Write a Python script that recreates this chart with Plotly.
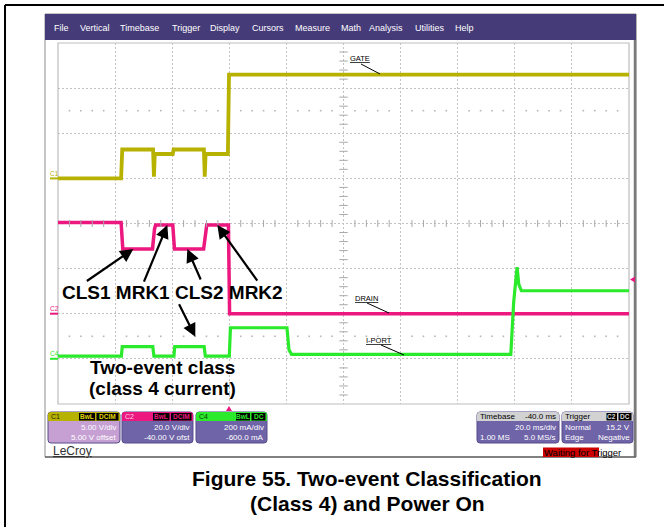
import plotly.graph_objects as go

W, H = 664, 527

# ---- acquisition (time in ms relative to the trigger, 20 ms/div) ----
gate_t = [-60, -37.9, -37.5, -26.7, -26.4, -26.1, -19.8, -19.5, -8.9, -8.6, -8.3, -0.5, -0.1, 140]
gate_v = [0.0, 0.0, 3.2, 3.2, 0.2, 2.7, 2.7, 3.2, 3.2, 0.2, 2.7, 2.7, 11.5, 11.5]

drain_t = [-60, -37.9, -37.3, -26.9, -26.2, -25.8, -19.8, -19.2, -9.0, -8.3, -7.9, -0.3, 0.1, 140]
drain_v = [40.4, 40.4, 28.7, 28.7, 37.5, 39.3, 39.3, 28.7, 28.7, 37.5, 39.3, 39.3, 0.0, 0.0]

iport_t = [-60, -37.8, -37.5, -26.8, -26.4, -19.4, -19.1, -8.8, -8.4, 0.0, 0.4, 20.2, 20.9,
           21.8, 98.6, 99.6, 100.8, 101.4, 102.3, 140]
iport_ma = [12, 12, 54, 54, 12, 12, 54, 54, 12, 12, 138, 138, 40, 20, 20, 250, 407, 330, 302, 302]

# channel vertical settings: units per division, offset
C1_SCALE, C1_OFFSET = 5.0, 5.0
C2_SCALE, C2_OFFSET = 20.0, -40.0
C4_SCALE, C4_OFFSET = 200.0, -600.0
TRIG_LEVEL = 15.2

menu_items = ["File", "Vertical", "Timebase", "Trigger", "Display", "Cursors",
              "Measure", "Math", "Analysis", "Utilities", "Help"]
menu_x = [53, 79, 119, 171, 209, 251, 294, 340, 368, 414, 454]

YELLOW = "#B7B200"
PINK = "#EC177F"
GREEN = "#2BEA2B"
PURPLE = "#6F64A8"
FONT = "Liberation Sans, Arial, sans-serif"


def to_div(vals, scale, offset):
    return [(v + offset) / scale for v in vals]


def px(x):
    return x / W


def py(y):
    return 1 - y / H


def P(x, y):
    return f"{px(x):.5f},{py(y):.5f}"


fig = go.Figure()

# ---- waveforms ----
fig.add_trace(go.Scatter(x=gate_t, y=to_div(gate_v, C1_SCALE, C1_OFFSET), mode="lines",
                         line=dict(color=YELLOW, width=3.8), hoverinfo="skip"))
fig.add_trace(go.Scatter(x=drain_t, y=to_div(drain_v, C2_SCALE, C2_OFFSET), mode="lines",
                         line=dict(color=PINK, width=3.5), hoverinfo="skip"))
fig.add_trace(go.Scatter(x=iport_t, y=to_div(iport_ma, C4_SCALE, C4_OFFSET), mode="lines",
                         line=dict(color=GREEN, width=3.2), hoverinfo="skip"))

# ---- graticule decorations: minor ticks on the centre cross, dotted rows ----
minor_t = [t for t in range(-60, 141, 4) if t % 20 != 0]
minor_y = [k / 5 for k in range(-20, 21) if k % 5 != 0]
fig.add_trace(go.Scatter(x=[40] * len(minor_y), y=minor_y, mode="markers", hoverinfo="skip",
                         marker=dict(symbol="line-ew", size=6, line=dict(width=1, color="#a8a8a8"))))
fig.add_trace(go.Scatter(x=minor_t, y=[0] * len(minor_t), mode="markers", hoverinfo="skip",
                         marker=dict(symbol="line-ns", size=5, line=dict(width=1, color="#a8a8a8"))))
for row in (2.5, -2.5):
    fig.add_trace(go.Scatter(x=minor_t, y=[row] * len(minor_t), mode="markers", hoverinfo="skip",
                             marker=dict(symbol="square", size=1.6, color="#b4b4b4")))

shapes = []
ann = []


def line(x0, y0, x1, y1, color="black", width=1, layer="above"):
    shapes.append(dict(type="line", xref="paper", yref="paper", x0=px(x0), y0=py(y0),
                       x1=px(x1), y1=py(y1), line=dict(color=color, width=width), layer=layer))


def rect(x0, y0, x1, y1, fill, edge=None, width=1, layer="above"):
    shapes.append(dict(type="rect", xref="paper", yref="paper", x0=px(x0), y0=py(y0),
                       x1=px(x1), y1=py(y1), fillcolor=fill,
                       line=dict(color=edge or fill, width=width if edge else 0), layer=layer))


def rounded(x0, y0, x1, y1, fill, edge=None, r=3, bottom=True):
    s = f"M{P(x0 + r, y0)} L{P(x1 - r, y0)} Q{P(x1, y0)} {P(x1, y0 + r)} "
    if bottom:
        s += (f"L{P(x1, y1 - r)} Q{P(x1, y1)} {P(x1 - r, y1)} L{P(x0 + r, y1)} "
              f"Q{P(x0, y1)} {P(x0, y1 - r)} ")
    else:
        s += f"L{P(x1, y1)} L{P(x0, y1)} "
    s += f"L{P(x0, y0 + r)} Q{P(x0, y0)} {P(x0 + r, y0)} Z"
    shapes.append(dict(type="path", xref="paper", yref="paper", path=s, fillcolor=fill,
                       line=dict(color=edge or fill, width=1 if edge else 0)))


def text(x, y, s, size=8, color="white", anchor="left", bold=False):
    ann.append(dict(x=px(x), y=py(y), xref="paper", yref="paper", text=f"<b>{s}</b>" if bold else s,
                    showarrow=False, xanchor=anchor, yanchor="middle", borderpad=0,
                    font=dict(family=FONT, size=size, color=color)))


# page border
line(5, 5, 5, 527, width=2)
line(5, 5, 664, 5, width=2)

# instrument screen frame and menu bar
rect(45, 14, 636, 457, "white", edge="#8c8c8c", width=1, layer="below")
line(635, 14, 635, 457, color="#7a7a7a", width=2.5)
line(45, 457, 636, 457, color="#6a6a6a", width=1.5)
rect(45, 14, 636, 40, "#453B79")
for name, mx in zip(menu_items, menu_x):
    text(mx, 28, name, size=9, color="white")

# graticule border
shapes.append(dict(type="rect", xref="x domain", yref="y domain", x0=0, y0=0, x1=1, y1=1,
                   line=dict(color="#bdbdbd", width=1.2), layer="below"))

# ground markers on the left edge
for lab, col, scale, off in (("C1", YELLOW, C1_SCALE, C1_OFFSET),
                             ("C2", PINK, C2_SCALE, C2_OFFSET),
                             ("C4", GREEN, C4_SCALE, C4_OFFSET)):
    gy = 223.5 - 45.1 * (off / scale)
    line(50, gy, 58, gy, color=col, width=2)
    text(48.5, gy - 5, lab, size=6.5, color=col)

# trigger level (right) and trigger position (bottom) indicators
ty = 223.5 - 45.1 * ((TRIG_LEVEL + C2_OFFSET) / C2_SCALE)
shapes.append(dict(type="path", xref="paper", yref="paper",
                   path=f"M{P(630, ty)} L{P(635, ty - 3)} L{P(635, ty + 3)} Z",
                   fillcolor=PINK, line=dict(width=0)))
shapes.append(dict(type="path", xref="paper", yref="paper",
                   path=f"M{P(229, 406)} L{P(226, 411)} L{P(232, 411)} Z",
                   fillcolor=PINK, line=dict(width=0)))

# trace name call-outs
text(360, 58, "<u>GATE</u>", size=7.5, color="black", anchor="center")
line(361, 64, 380, 74)
text(366, 298, "<u>DRAIN</u>", size=7.5, color="black", anchor="center")
line(367, 303, 389, 313)
text(379, 340, "<u>I-PORT</u>", size=7.5, color="black", anchor="center")
line(381, 345, 404, 355)

# ---- channel descriptor boxes ----
def tag(x0, x1, s, col):
    rect(x0, 413, x1, 420.5, "black")
    text((x0 + x1) / 2, 416.8, s, size=6.5, color=col, anchor="center", bold=True)


def chan_box(x0, x1, head_col, body_col, name, name_col, tags, lines):
    rounded(x0, 412, x1, 443, body_col, edge="#574d8c")
    rounded(x0, 412, x1, 421, head_col, bottom=False)
    text(x0 + 2, 416.8, name, size=7, color=name_col)
    for (a, b, s, c) in tags:
        tag(a, b, s, c)
    for i, s in enumerate(lines):
        text(x1 - 2, 427.5 + 10 * i, s, size=8, color="white", anchor="right")


chan_box(48, 120, YELLOW, "#C6A0D3", "C1", "#222200",
         [(79, 95, "BwL", "#E0D800"), (96.5, 118.5, "DCIM", "#E0D800")],
         ["5.00 V/div", "5.00 V offset"])
chan_box(122, 193, PINK, PURPLE, "C2", "#ffd6ea",
         [(153, 169.5, "BwL", PINK), (171, 191.5, "DCIM", PINK)],
         ["20.0 V/div", "-40.00 V ofst"])
chan_box(196, 267, GREEN, PURPLE, "C4", "#0a3a0a",
         [(236, 250, "BwL", GREEN), (251.5, 265.5, "DC", GREEN)],
         ["200 mA/div", "-600.0 mA"])

# timebase box
rounded(477, 412, 559, 443, PURPLE, edge="#574d8c")
rounded(477, 412, 559, 421, "#D2D2D2", bottom=False)
text(479, 416.8, "Timebase", size=8, color="black")
text(557, 416.8, "-40.0 ms", size=8, color="black", anchor="right")
text(557, 427.5, "20.0 ms/div", size=8, color="white", anchor="right")
text(479, 437.5, "1.00 MS", size=8, color="white")
text(557, 437.5, "5.0 MS/s", size=8, color="white", anchor="right")

# trigger box
rounded(562, 412, 633, 443, PURPLE, edge="#574d8c")
rounded(562, 412, 633, 421, "#D2D2D2", bottom=False)
text(564, 416.8, "Trigger", size=8, color="black")
tag(606.5, 617, "C2", "#d8d8d8")
tag(618.5, 631.5, "DC", "#d8d8d8")
text(564, 427.5, "Normal", size=8, color="white")
text(631, 427.5, "15.2 V", size=8, color="white", anchor="right")
text(564, 437.5, "Edge", size=8, color="white")
text(631, 437.5, "Negative", size=8, color="white", anchor="right")

# status line and brand
rect(543, 447.5, 599, 457, "#CC0000")
text(543, 452, "Waiting for Trigger", size=9.5, color="black")
text(52, 451, "<u>LeCroy</u>", size=12, color="#333333")

# ---- annotation labels and arrows ----
text(172.5, 292, "CLS1 MRK1 CLS2 MRK2", size=19, color="black", anchor="center", bold=True)
text(162, 367, "Two-event class", size=19, color="black", anchor="center", bold=True)
text(162, 388, "(class 4 current)", size=19, color="black", anchor="center", bold=True)

cls_div = (drain_v[2] + C2_OFFSET) / C2_SCALE
mrk_div = (drain_v[5] + C2_OFFSET) / C2_SCALE
arrows = [(-33.6, cls_div, -48, 33), (-21.7, mrk_div, -24, 58),
          (-14.7, cls_div, 14, 32), (-4.2, mrk_div, 41, 57),
          (-11.9, (iport_ma[6] + C4_OFFSET) / C4_SCALE + 0.22, -17, -34)]
for (ax_t, ay_d, dx, dy) in arrows:
    ann.append(dict(x=ax_t, y=ay_d, xref="x", yref="y", ax=dx, ay=dy, text="", showarrow=True,
                    arrowhead=2, arrowsize=1.2, arrowwidth=2.2, arrowcolor="black", standoff=0))

# caption
text(367, 478, "Figure 55. Two-event Classification", size=21, color="black",
     anchor="center", bold=True)
text(367, 503, "(Class 4) and Power On", size=21, color="black", anchor="center", bold=True)

fig.update_layout(
    width=W, height=H, margin=dict(l=0, r=0, t=0, b=0),
    paper_bgcolor="white", plot_bgcolor="white", showlegend=False,
    shapes=shapes, annotations=ann,
    xaxis=dict(domain=[58 / W, 629 / W], range=[-60, 140], tick0=-60, dtick=20,
               showgrid=True, gridcolor="#c2c2c2", griddash="2px,2px", gridwidth=1,
               zeroline=False, showticklabels=False, ticks="", showline=False, fixedrange=True),
    yaxis=dict(domain=[1 - 404 / H, 1 - 43 / H], range=[-4, 4], tick0=-4, dtick=1,
               showgrid=True, gridcolor="#c2c2c2", griddash="2px,2px", gridwidth=1,
               zeroline=False, showticklabels=False, ticks="", showline=False, fixedrange=True),
)

fig.write_html("out.html")
